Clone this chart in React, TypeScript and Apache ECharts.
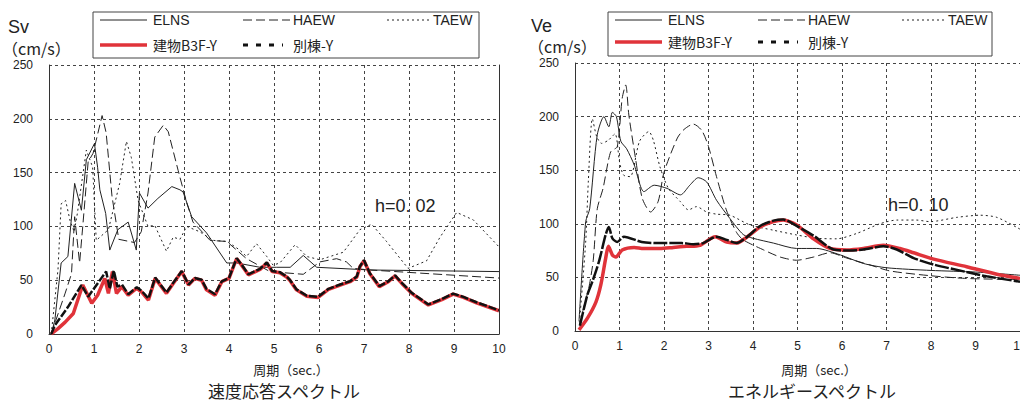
import React, { useEffect, useRef } from "react";
import * as echarts from "echarts";

// ---- tick definitions ----
const periodMin = 0;
const periodMax = 10;
const periodStep = 1;
const velMin = 0;
const velMax = 250;
const velStep = 50;

// ---- left chart: velocity response spectrum Sv (h=0.02) ----
const svELNS: number[][] = [
  [0.05, 0], [0.13, 13], [0.27, 66], [0.42, 72], [0.57, 140], [0.72, 115], [0.83, 162], [1.01, 177],
  [1.08, 155], [1.13, 134], [1.26, 112], [1.35, 78], [1.53, 97], [1.76, 104], [1.94, 78], [2.01, 131],
  [2.2, 117], [2.42, 126], [2.73, 137], [2.91, 134], [2.98, 132], [3.17, 109], [3.5, 94], [3.95, 66],
  [4.17, 66], [4.69, 62], [5.06, 62], [5.36, 62], [5.65, 73], [5.95, 62], [7.13, 59.5], [10, 58],
];
const svHAEW: number[][] = [
  [0.05, 0], [0.13, 10], [0.36, 38], [0.5, 56], [0.57, 109], [0.68, 66], [0.75, 100], [0.87, 160],
  [0.98, 168], [1.18, 203], [1.27, 187], [1.4, 128], [1.55, 88], [1.9, 85], [2.05, 95], [2.2, 131],
  [2.35, 183], [2.54, 194], [2.65, 188], [2.87, 152], [3.06, 122], [3.2, 104], [3.58, 87], [3.95, 86],
  [4.39, 70], [4.91, 58], [5.65, 55.5], [6.02, 67], [6.39, 70], [6.61, 67], [6.76, 61], [7.13, 59.5],
  [10, 52],
];
const svTAEW: number[][] = [
  [0.05, 0], [0.2, 60], [0.27, 121], [0.37, 124], [0.47, 105], [0.56, 95], [0.63, 112], [0.83, 171],
  [0.97, 155], [1.05, 87], [1.32, 97], [1.57, 140], [1.72, 179], [1.83, 164], [1.98, 124], [2.2, 100],
  [2.35, 101], [2.61, 77], [2.76, 90], [2.91, 88], [3.06, 100], [3.35, 95], [3.65, 87], [3.96, 86],
  [4.24, 78], [4.39, 72], [4.61, 84], [4.84, 72], [4.98, 64], [5.13, 66], [5.47, 83], [5.73, 72],
  [6.02, 69], [6.54, 76], [6.91, 97], [7.17, 102], [7.5, 86], [7.98, 61], [8.39, 68], [8.69, 90],
  [9.06, 113], [9.43, 106], [10, 81],
];
const svB3F: number[][] = [
  [0.05, 0], [0.2, 5], [0.36, 11], [0.54, 19], [0.75, 45.5], [0.95, 28.5], [1.08, 36], [1.24, 51.7],
  [1.32, 37.8], [1.41, 58], [1.5, 37.8], [1.62, 44], [1.76, 36], [1.95, 42.5], [2.06, 39], [2.21, 31.6],
  [2.36, 51.7], [2.61, 37.8], [2.76, 47], [2.95, 58], [3.1, 45.5], [3.24, 51.7], [3.39, 50], [3.5, 41],
  [3.69, 36], [3.84, 48.6], [4.0, 51.7], [4.1, 62.6], [4.17, 70], [4.28, 64], [4.43, 55], [4.69, 60],
  [4.84, 66], [4.96, 58], [5.13, 57], [5.28, 53], [5.35, 50], [5.5, 41], [5.73, 35], [5.98, 34],
  [6.21, 41.5], [6.47, 45.5], [6.69, 48.6], [6.84, 53], [6.91, 62.6], [7.0, 68], [7.13, 56], [7.34, 44],
  [7.54, 48.6], [7.69, 54], [7.84, 47], [8.06, 37.8], [8.43, 27], [8.73, 32], [8.98, 37], [9.21, 34],
  [9.5, 29], [10, 21.6],
];
const svAnnex: number[][] = [
  [0.05, 0], [0.13, 8], [0.42, 25], [0.72, 45.5], [0.87, 34.7], [1.16, 51.7], [1.27, 58], [1.35, 42],
  [1.44, 59], [1.52, 44], [1.62, 46], [1.76, 37], [1.95, 43.5], [2.06, 40], [2.21, 33], [2.36, 52.5],
  [2.61, 38.5], [2.76, 47.5], [2.95, 58.5], [3.1, 46], [3.24, 52], [3.39, 50.5], [3.5, 42], [3.69, 37],
  [3.84, 49], [4.0, 52], [4.1, 63], [4.17, 70.5], [4.28, 64.5], [4.43, 55.5], [4.69, 60.5], [4.84, 66.5],
  [4.96, 58.5], [5.13, 57.5], [5.28, 53.5], [5.35, 50.5], [5.5, 41.5], [5.73, 35.5], [5.98, 34.5],
  [6.21, 42], [6.47, 46], [6.69, 49], [6.84, 53.5], [6.91, 63], [7.0, 68.5], [7.13, 56.5], [7.34, 44.5],
  [7.54, 49], [7.69, 54.5], [7.84, 47.5], [8.06, 38.3], [8.43, 27.5], [8.73, 32.5], [8.98, 37.5],
  [9.21, 34.5], [9.5, 29.5], [10, 22],
];

// ---- right chart: energy spectrum Ve (h=0.10) ----
const veELNS: number[][] = [
  [0.09, 9], [0.24, 102], [0.33, 114], [0.5, 183], [0.65, 200], [0.76, 190.5], [0.84, 204], [0.93, 200],
  [1.03, 177], [1.16, 170], [1.33, 155], [1.55, 130], [1.78, 136], [2.07, 133], [2.37, 127], [2.58, 136],
  [2.77, 143], [2.96, 139], [3.18, 122], [3.48, 105], [3.78, 90], [4.0, 86.5], [4.46, 82], [4.98, 77],
  [5.43, 77], [5.96, 71], [6.48, 63], [7.0, 59], [8.0, 56.5], [9.0, 55], [10, 52],
];
const veHAEW: number[][] = [
  [0.1, 5], [0.22, 26], [0.31, 40], [0.41, 66], [0.5, 114], [0.63, 133], [0.8, 167], [0.95, 172],
  [1.06, 217], [1.14, 229.5], [1.21, 201.5], [1.36, 161], [1.51, 124], [1.7, 111], [1.87, 121], [2.0, 148],
  [2.3, 180], [2.45, 188], [2.66, 193], [2.85, 187], [3.0, 172], [3.18, 144], [3.4, 113], [3.63, 92],
  [3.78, 85], [4.24, 75.6], [4.61, 69], [4.98, 66], [5.36, 69], [5.73, 73], [6.11, 68], [6.63, 61.6],
  [7.08, 56], [7.98, 51.6], [8.8, 49], [10, 48],
];
const veTAEW: number[][] = [
  [0.1, 8], [0.24, 83], [0.3, 140], [0.39, 198], [0.49, 181], [0.6, 175], [0.75, 178], [0.9, 184],
  [1.0, 158], [1.09, 145.5], [1.24, 144], [1.45, 177], [1.66, 186], [1.76, 178], [1.91, 153], [2.1, 133],
  [2.36, 121], [2.55, 113], [2.73, 116], [2.96, 111], [3.18, 109], [3.48, 108], [3.93, 99], [4.46, 94],
  [4.98, 89.6], [5.43, 86.5], [5.88, 86], [6.33, 91], [6.85, 100], [7.23, 103.5], [7.67, 103.5],
  [7.98, 102], [8.58, 106], [9.1, 108], [9.48, 106], [10, 95],
];
const veB3F: number[][] = [
  [0.09, 1], [0.28, 12], [0.47, 27], [0.58, 43], [0.69, 68], [0.75, 79], [0.84, 71], [0.92, 69],
  [1.06, 75.6], [1.33, 78], [1.54, 77], [1.91, 77], [2.21, 78], [2.51, 79], [2.81, 80], [3.15, 88],
  [3.41, 83], [3.63, 82], [3.86, 87.5], [4.16, 97], [4.46, 102], [4.68, 103.5], [4.98, 99], [5.36, 86],
  [5.73, 77], [6.11, 75.6], [6.48, 77], [6.93, 80], [7.3, 77], [7.61, 73], [8.06, 67], [8.8, 60],
  [9.48, 53], [10, 49],
];
const veAnnex: number[][] = [
  [0.11, 5], [0.28, 34], [0.39, 46], [0.54, 65], [0.69, 90], [0.76, 97], [0.84, 86.5], [0.95, 83],
  [1.1, 88], [1.5, 83], [1.8, 82], [2.4, 82], [2.66, 81], [2.88, 82], [3.18, 88], [3.41, 85], [3.63, 82],
  [3.86, 87.5], [4.16, 98], [4.46, 103], [4.68, 104], [4.98, 98], [5.36, 89], [5.81, 76], [6.18, 75],
  [6.48, 76], [6.93, 79], [7.23, 76], [7.61, 68], [8.06, 62], [8.8, 55], [9.25, 51], [10, 46],
];

const seriesNames = ["ELNS", "HAEW", "TAEW", "建物B3F-Y", "別棟-Y"];
const leftTitle = "速度応答スペクトル";
const rightTitle = "エネルギースペクトル";
const xAxisTitle = "周期（sec.）";
const leftUnit = ["Sv", "（cm/s）"];
const rightUnit = ["Ve", "（cm/s）"];
const leftDamping = "h=0. 02";
const rightDamping = "h=0. 10";

const RED = "#e0333a";
const INK = "#222";
const JP = "'Noto Sans CJK JP', sans-serif";
const LAT = "'Liberation Sans', Arial, sans-serif";

function lineStyles(idx: number, gi = 0) {
  switch (idx) {
    case 0: return { color: INK, width: 1, type: "solid" as any };
    case 1: return { color: INK, width: 1, type: [9, 4] as any };
    case 2: return { color: INK, width: 1, type: [2, 3] as any };
    case 3: return { color: RED, width: 3.5, type: "solid" as any };
    default: return { color: "#111", width: 2.5, type: (gi ? [14, 2] : [8, 2]) as any };
  }
}

function legendGroup(x0: number, y0: number, w: number, h: number, row2: number) {
  const r1 = y0 + 8;
  const r2 = y0 + row2;
  const items: any[] = [
    { type: "rect", shape: { x: x0, y: y0, width: w, height: h }, style: { fill: "#fff", stroke: "#444", lineWidth: 1 } },
  ];
  const cols = [x0 + 7, x0 + 150, x0 + 294];
  const lens = [47, 47, 43];
  const rows: [number, number, number][] = [
    [0, 0, r1], [1, 1, r1], [2, 2, r1], [3, 0, r2], [4, 1, r2],
  ];
  rows.forEach(([si, ci, ry]) => {
    const ls = lineStyles(si);
    const len = si === 4 ? 40 : lens[ci];
    items.push({
      type: "line",
      shape: { x1: cols[ci], y1: ry, x2: cols[ci] + len, y2: ry },
      style: {
        stroke: ls.color,
        lineWidth: si === 4 ? 3 : ls.width,
        lineDash: si === 4 ? [5, 8] : Array.isArray(ls.type) ? ls.type : null,
      },
    });
    items.push({
      type: "text",
      x: cols[ci] + len + (si === 4 ? 10 : si === 2 ? 3 : si === 1 ? 3 : 6),
      y: ry,
      style: { text: seriesNames[si], fontSize: 14, fontFamily: si >= 3 ? JP : LAT, fill: INK, verticalAlign: "middle" },
    });
  });
  return items;
}

export default function App() {
  const ref = useRef<HTMLDivElement>(null);
  useEffect(() => {
    if (!ref.current) return;
    const chart = echarts.init(ref.current, null, { renderer: "svg" });

    const xAxisBase = (gi: number) => ({
      type: "value",
      gridIndex: gi,
      min: periodMin,
      max: periodMax,
      interval: periodStep,
      axisLine: { show: true, onZero: false, lineStyle: { color: "#333", width: 1 } },
      axisTick: { show: false },
      axisLabel: { show: true, margin: 9, fontSize: 12, color: INK, fontFamily: LAT },
      splitLine: { show: true, lineStyle: { color: "#444", type: [3, 3], width: 1 } },
    });
    const yAxisBase = (gi: number) => ({
      type: "value",
      gridIndex: gi,
      min: velMin,
      max: velMax,
      interval: velStep,
      axisLine: { show: true, lineStyle: { color: "#333", width: 1 } },
      axisTick: { show: false },
      axisLabel: { show: true, margin: 16, fontSize: 12, color: INK, fontFamily: LAT },
      splitLine: { show: true, lineStyle: { color: "#444", type: [3, 3], width: 1 } },
    });
    const yBorder = (gi: number) => ({
      type: "value",
      gridIndex: gi,
      position: "right",
      min: velMin,
      max: velMax,
      interval: velStep,
      axisLine: { show: true, lineStyle: { color: "#333", width: 1 } },
      axisTick: { show: false },
      axisLabel: { show: false },
      splitLine: { show: false },
    });

    const leftData = [svELNS, svHAEW, svTAEW, svB3F, svAnnex];
    const rightData = [veELNS, veHAEW, veTAEW, veB3F, veAnnex];
    const mk = (data: number[][], idx: number, gi: number, smooth: number | boolean) => ({
      type: "line",
      name: seriesNames[idx] + (gi ? "-Ve" : "-Sv"),
      xAxisIndex: gi,
      yAxisIndex: gi,
      data,
      showSymbol: false,
      symbol: "none",
      smooth,
      z: 2 + idx,
      lineStyle: lineStyles(idx, gi),
      silent: true,
    });

    const series: any[] = [];
    leftData.forEach((d, i) => series.push(mk(d, i, 0, false)));
    rightData.forEach((d, i) => series.push(mk(d, i, 1, 0.25)));

    const graphics: any[] = [
      ...legendGroup(93, 12, 386, 46, 33),
      ...legendGroup(608, 12, 384, 44, 30),
      { type: "text", x: 8, y: 27, style: { text: leftUnit[0], fontSize: 18, fontFamily: LAT, fill: INK, verticalAlign: "middle" } },
      { type: "text", x: 2, y: 48, style: { text: leftUnit[1], fontSize: 16, fontFamily: JP, fill: INK, verticalAlign: "middle" } },
      { type: "text", x: 531, y: 26, style: { text: rightUnit[0], fontSize: 18, fontFamily: LAT, fill: INK, verticalAlign: "middle" } },
      { type: "text", x: 528, y: 46, style: { text: rightUnit[1], fontSize: 16, fontFamily: JP, fill: INK, verticalAlign: "middle" } },
      { type: "text", x: 375, y: 206, style: { text: leftDamping, fontSize: 18, fontFamily: LAT, fill: INK, verticalAlign: "middle" } },
      { type: "text", x: 888, y: 205, style: { text: rightDamping, fontSize: 18, fontFamily: LAT, fill: INK, verticalAlign: "middle" } },
      { type: "text", x: 291, y: 369, style: { text: xAxisTitle, fontSize: 13, fontFamily: JP, fill: INK, align: "center", verticalAlign: "middle" } },
      { type: "text", x: 819, y: 369, style: { text: xAxisTitle, fontSize: 13, fontFamily: JP, fill: INK, align: "center", verticalAlign: "middle" } },
      { type: "text", x: 284, y: 390, style: { text: leftTitle, fontSize: 17, fontFamily: JP, fill: INK, align: "center", verticalAlign: "middle" } },
      { type: "text", x: 812, y: 390, style: { text: rightTitle, fontSize: 17, fontFamily: JP, fill: INK, align: "center", verticalAlign: "middle" } },
    ];

    chart.setOption({
      animation: false,
      backgroundColor: "#fff",
      grid: [
        { left: 49, top: 65, width: 450, height: 269, containLabel: false, outerBoundsMode: "none" },
        { left: 575, top: 63, width: 445, height: 268, containLabel: false, outerBoundsMode: "none" },
      ],
      xAxis: [xAxisBase(0), xAxisBase(1)],
      yAxis: [yAxisBase(0), yAxisBase(1), yBorder(0), yBorder(1)],
      series,
      graphic: { elements: graphics },
    });
    return () => chart.dispose();
  }, []);
  return <div ref={ref} style={{ position: "fixed", left: 0, top: 0, width: 1020, height: 401 }} />;
}
